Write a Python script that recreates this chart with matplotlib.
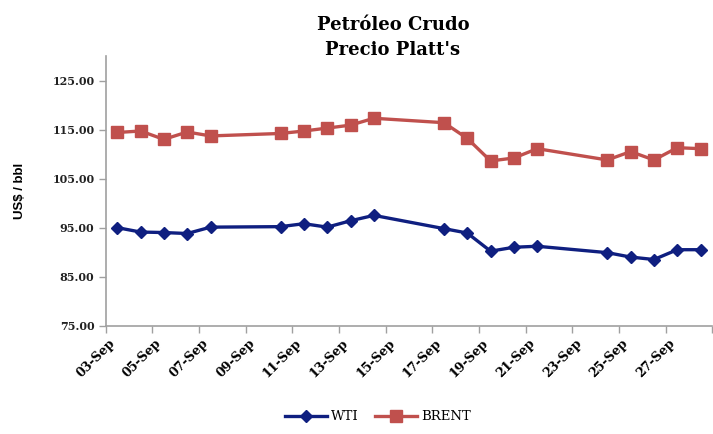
import matplotlib
matplotlib.use("Agg")
import matplotlib.pyplot as plt
import numpy as np

# trading days of Sep 2012 (day of month)
days = [3, 4, 5, 6, 7, 10, 11, 12, 13, 14, 17, 18, 19, 20, 21, 24, 25, 26, 27, 28]
wti = [95.0, 94.1, 94.0, 93.8, 95.1, 95.2, 95.8, 95.1, 96.4, 97.5,
       94.8, 93.9, 90.2, 91.0, 91.2, 89.9, 89.0, 88.5, 90.5, 90.5]
brent = [114.4, 114.7, 113.0, 114.5, 113.7, 114.2, 114.7, 115.3, 115.9, 117.3,
         116.4, 113.2, 108.6, 109.2, 111.1, 108.8, 110.5, 108.8, 111.3, 111.1]
label_days = [3, 5, 7, 9, 11, 13, 15, 17, 19, 21, 23, 25, 27]
tick_labels = ["%02d-Sep" % d for d in label_days]
y_ticks = [75, 85, 95, 105, 115, 125]

axis_grey = "#a0a0a0"

fig = plt.figure(figsize=(7.13, 4.34), dpi=100)
ax = fig.add_axes([0.148, 0.2495, 0.851, 0.6215])

# points sit in the middle of each day cell (Excel "between tick marks")
x = np.array(days) + 0.5
ax.plot(x, wti, color="#0f1f80", lw=2.4, marker="D", ms=6.5, label="WTI", zorder=3)
ax.plot(x, brent, color="#c0504d", lw=2.4, marker="s", ms=9, label="BRENT", zorder=3)

ax.set_xlim(3, 29)
ax.set_ylim(75, 130)

ax.set_xticks(np.arange(3, 30, 2))
ax.set_xticklabels([])
ax.set_xticks(np.array(label_days) + 0.5, minor=True)
ax.set_xticklabels(tick_labels, minor=True, rotation=45, ha="right", va="top",
                   fontfamily="DejaVu Serif", fontweight="bold", fontsize=9)
ax.tick_params(axis="x", which="minor", length=0, pad=8)
ax.tick_params(axis="x", which="major", length=5, color=axis_grey, width=1)

ax.set_yticks(y_ticks)
ax.set_yticklabels(["%.2f" % v for v in y_ticks], fontfamily="DejaVu Serif",
                   fontweight="bold", fontsize=8, color="#222222")
ax.tick_params(axis="y", length=5, color=axis_grey, width=1, pad=3)

for s in ["top", "right"]:
    ax.spines[s].set_visible(False)
for s in ["left", "bottom"]:
    ax.spines[s].set_color(axis_grey)
    ax.spines[s].set_linewidth(1.2)

ax.set_ylabel("US$ / bbl", fontfamily="Liberation Sans", fontweight="bold",
              fontsize=9.5, labelpad=19)

fig.text(0.551, 0.943, "Petróleo Crudo", ha="center", va="center",
         fontfamily="DejaVu Serif", fontweight="bold", fontsize=13)
fig.text(0.551, 0.885, "Precio Platt's", ha="center", va="center",
         fontfamily="DejaVu Serif", fontweight="bold", fontsize=13)

fig.legend(loc="center", bbox_to_anchor=(0.53, 0.04), ncol=2, frameon=False,
           prop={"family": "DejaVu Serif", "size": 9.5}, handlelength=3.2,
           columnspacing=1.2, handletextpad=0.3)

fig.savefig("out.png", dpi=100)
